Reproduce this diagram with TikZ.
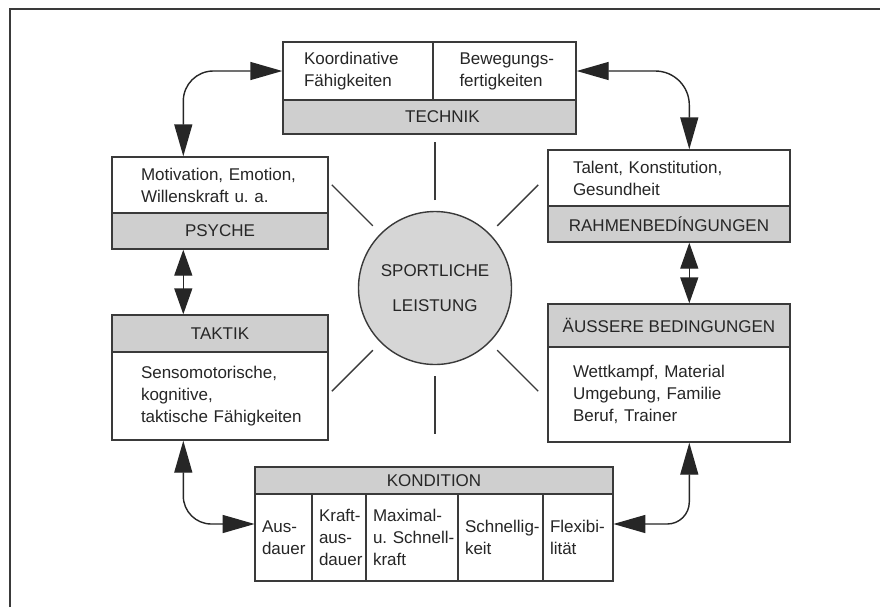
\documentclass[tikz,border=0pt]{standalone}
\usepackage{fontspec}
\setmainfont{Liberation Sans}
\usetikzlibrary{arrows.meta}
\definecolor{linegray}{HTML}{3A3A3A}
\definecolor{headgray}{HTML}{CFCFCF}
\definecolor{ballgray}{HTML}{D6D6D6}
\definecolor{inkgray}{HTML}{262626}
\begin{document}
\begin{tikzpicture}[x=0.5pt,y=-0.5pt,font=\fontsize{8.5}{11}\selectfont,
  every node/.style={text=inkgray},
  cell/.style={draw=linegray,line width=0.7pt,inner sep=0pt,align=left,fill=white,
    execute at begin node={\exhyphenpenalty=10000\hbadness=10000\hfuzz=20pt}},
  head/.style={draw=linegray,line width=0.7pt,inner sep=0pt,fill=headgray},
  ray/.style={linegray,line width=0.7pt},
  dblarr/.style={{Triangle[length=#1,width=9pt]}-{Triangle[length=#1,width=9pt]},line width=0.7pt,draw=black!85},
  dblarr/.default=16pt]
  \useasboundingbox[fill=white] (0,0) rectangle (880,607);
  \draw[linegray,line width=1pt] (10,607) -- (10,9) -- (880,9);
  \node[cell,minimum width=75pt,minimum height=29pt,text width=54pt] (koord) at (358,71) {Koordinative\\Fähigkeiten};
  \node[cell,minimum width=71.5pt,minimum height=29pt,text width=45pt] (beweg) at (504.5,71) {Bewegungs-\\fertigkeiten};
  \node[head,minimum width=146.5pt,minimum height=17pt] (technikhead) at (429.5,117) {\hspace*{13pt}TECHNIK};
  \node[cell,minimum width=108pt,minimum height=28pt,text width=79pt] (psyche) at (220,185) {Motivation,~Emotion,\\Willenskraft u.\ a.};
  \node[head,minimum width=108pt,minimum height=18pt] (psychehead) at (220,231) {PSYCHE};
  \node[head,minimum width=108pt,minimum height=18.5pt] (taktikhead) at (220,333.5) {TAKTIK};
  \node[cell,minimum width=108pt,minimum height=44pt,text width=79pt] (taktik) at (220,396) {Sensomotorische,\\kognitive,\\taktische~Fähigkeiten};
  \node[cell,minimum width=121pt,minimum height=28pt,text width=96pt] (rahmen) at (669,178) {Talent, Konstitution,\\Gesundheit};
  \node[head,minimum width=121pt,minimum height=18pt] (rahmenhead) at (669,224) {RAHMENBEDÍNGUNGEN};
  \node[head,minimum width=121pt,minimum height=21.5pt] (aeusserehead) at (669,325.5) {ÄUSSERE BEDINGUNGEN};
  \node[cell,minimum width=121pt,minimum height=47.5pt,text width=96pt] (aeussere) at (669,394.5) {Wettkampf, Material\\Umgebung, Familie\\Beruf, Trainer};
  \node[minimum width=179pt,minimum height=57pt,inner sep=0pt] (kondition) at (434,524) {};
  \node[head,minimum width=179pt,minimum height=13.5pt] (kondhead) at (434,480.5) {KONDITION};
  \node[cell,minimum width=28.5pt,minimum height=43.5pt,text width=21.5pt] (aus) at (283.5,537.5) {Aus-\\dauer\\[7pt]};
  \node[cell,minimum width=27pt,minimum height=43.5pt,text width=20pt] (kraft) at (339,537.5) {Kraft-\\aus-\\dauer\\[3pt]};
  \node[cell,minimum width=46pt,minimum height=43.5pt,text width=39pt] (maxi) at (412,537.5) {Maximal-\\u.~Schnell-\\kraft\\[3pt]};
  \node[cell,minimum width=42.5pt,minimum height=43.5pt,text width=35.5pt] (schnell) at (500.5,537.5) {Schnellig-\\keit\\[7pt]};
  \node[cell,minimum width=35pt,minimum height=43.5pt,text width=28pt] (flex) at (578,537.5) {Flexibi-\\lität\\[7pt]};
  \node[circle,draw=linegray,line width=0.7pt,fill=ballgray,minimum size=76.5pt,inner sep=0pt,align=center] (sport) at (435,288) {SPORTLICHE\\[6.5pt]LEISTUNG};
  \foreach \a in {45,90,135,225,270,315}
    \draw[ray] ([shift={(\a:88)}]sport.center) -- ([shift={(\a:146)}]sport.center);
  \draw[dblarr,rounded corners=15pt] (koord.west) -| ([xshift=36pt]psyche.north west);
  \draw[dblarr,rounded corners=17pt] (beweg.east) -| ([xshift=71pt]rahmen.north west);
  \draw[dblarr=13pt] ([xshift=36pt]psychehead.south west) -- ([xshift=36pt]taktikhead.north west);
  \draw[dblarr=13pt] ([xshift=71pt]rahmenhead.south west) -- ([xshift=71pt]aeusserehead.north west);
  \draw[dblarr,rounded corners=14pt] ([xshift=36pt]taktik.south west) |- (kondition.west);
  \draw[dblarr,rounded corners=11pt] ([xshift=71pt]aeussere.south west) |- (kondition.east);
\end{tikzpicture}
\end{document}
